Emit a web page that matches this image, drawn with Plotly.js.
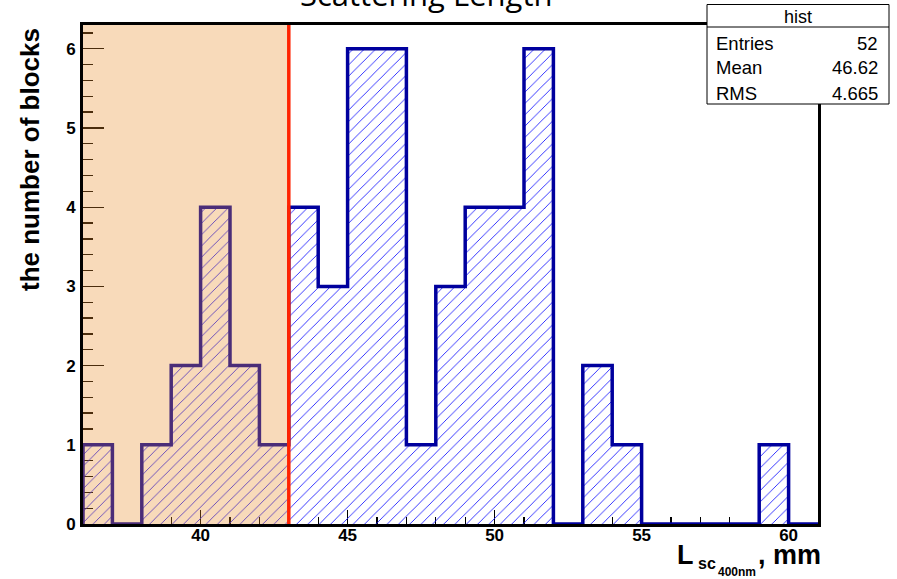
<!DOCTYPE html>
<html>
<head>
<meta charset="utf-8">
<script src="https://cdn.plot.ly/plotly-3.0.1.min.js"></script>
<style>
  html, body { margin: 0; padding: 0; background: #ffffff; }
  #chart { width: 897px; height: 579px; }
</style>
</head>
<body>
<div id="chart"></div>
<script>
// Histogram of scattering length per block, 1 mm bins from 36 to 61 mm
const binLow = [36, 37, 38, 39, 40, 41, 42, 43, 44, 45, 46, 47, 48, 49, 50,
                51, 52, 53, 54, 55, 56, 57, 58, 59, 60];
const counts = [1, 0, 1, 2, 4, 2, 1, 4, 3, 6, 6, 1, 3, 4, 4,
                6, 0, 2, 1, 0, 0, 0, 0, 1, 0];
const binWidth = 1;
const xRange = [36, 61];
const yRange = [0, 6.3];

// Blocks below this length are rejected (shaded region)
const cutValue = 43;

// Statistics box
const statsTitle = 'hist';
const statsNames = ['Entries', 'Mean', 'RMS'];
const statsValues = ['52', '46.62', '4.665'];

const W = 897, H = 579;
const M = {l: 83, r: 79, t: 25, b: 55};
const px = x => (x - M.l) / (W - M.l - M.r);
const py = y => (H - M.b - y) / (H - M.t - M.b);

const centers = binLow.map(v => v + binWidth / 2);

// Step outline: start at the baseline, climb to each bin's height
const stepX = [binLow[0]].concat(binLow, [binLow[binLow.length - 1] + binWidth]);
const stepY = [0].concat(counts, [counts[counts.length - 1]]);

const hatch = {
  type: 'bar',
  x: centers,
  y: counts,
  width: binWidth,
  marker: {
    color: 'rgba(0,0,0,0)',
    line: {width: 0},
    pattern: {shape: '/', fgcolor: '#1c1cff', bgcolor: 'rgba(0,0,0,0)',
              size: 8, solidity: 0.11, fillmode: 'replace'}
  },
  hoverinfo: 'skip',
  showlegend: false
};

const outline = {
  type: 'scatter',
  mode: 'lines',
  x: stepX,
  y: stepY,
  line: {shape: 'hv', color: '#00009e', width: 3.5},
  hoverinfo: 'skip',
  showlegend: false
};

const boldFont = {family: 'Liberation Sans, Arial, sans-serif', color: '#000000'};
const plainFont = {family: 'Liberation Sans, Arial, sans-serif', color: '#000000'};

const annotations = [
  // title (runs off the top of the canvas)
  {text: 'Scattering Length', xref: 'paper', yref: 'paper',
   x: px(426), y: py(17), xanchor: 'center', yanchor: 'bottom', showarrow: false,
   font: {family: 'Open Sans, sans-serif', size: 31, color: '#000000'}},
  // y-axis title
  {text: '<b>the number of blocks</b>', xref: 'paper', yref: 'paper',
   x: px(30), y: py(160), xanchor: 'center', yanchor: 'middle', textangle: -90,
   showarrow: false, font: Object.assign({size: 26}, boldFont)},
  // x-axis title pieces
  {text: '<b>L</b>', xref: 'paper', yref: 'paper', x: px(675), y: py(572),
   xanchor: 'left', yanchor: 'bottom', showarrow: false,
   font: Object.assign({size: 27}, boldFont)},
  {text: '<b>sc</b>', xref: 'paper', yref: 'paper', x: px(696), y: py(574),
   xanchor: 'left', yanchor: 'bottom', showarrow: false,
   font: Object.assign({size: 16}, boldFont)},
  {text: '<b>400nm</b>', xref: 'paper', yref: 'paper', x: px(716), y: py(581),
   xanchor: 'left', yanchor: 'bottom', showarrow: false,
   font: Object.assign({size: 12}, boldFont)},
  {text: '<b>, mm</b>', xref: 'paper', yref: 'paper', x: px(756), y: py(572),
   xanchor: 'left', yanchor: 'bottom', showarrow: false,
   font: Object.assign({size: 27}, boldFont)},
  // statistics box header
  {text: statsTitle, xref: 'paper', yref: 'paper', x: px(798), y: py(17),
   xanchor: 'center', yanchor: 'middle', showarrow: false,
   font: Object.assign({size: 18}, plainFont)}
];

const rowY = [43, 68, 93];
statsNames.forEach((name, i) => {
  annotations.push({text: name, xref: 'paper', yref: 'paper', x: px(714), y: py(rowY[i]),
    xanchor: 'left', yanchor: 'middle', showarrow: false,
    font: Object.assign({size: 18.5}, plainFont)});
  annotations.push({text: statsValues[i], xref: 'paper', yref: 'paper', x: px(880), y: py(rowY[i]),
    xanchor: 'right', yanchor: 'middle', showarrow: false,
    font: Object.assign({size: 18.5}, plainFont)});
});

const shapes = [
  // shaded rejection region, laid over the histogram and frame
  {type: 'rect', xref: 'x', yref: 'y', layer: 'above',
   x0: xRange[0] - 0.1, x1: cutValue, y0: -0.045, y1: yRange[1] + 0.03,
   fillcolor: 'rgba(232,140,40,0.32)', line: {width: 0}},
  // cut line
  {type: 'line', xref: 'x', yref: 'y', layer: 'above',
   x0: cutValue, x1: cutValue, y0: -0.02, y1: yRange[1] + 0.02,
   line: {color: '#ff2200', width: 3.5}},
  // statistics box
  {type: 'rect', xref: 'paper', yref: 'paper', layer: 'above',
   x0: px(707), x1: px(889), y0: py(104), y1: py(4.5),
   fillcolor: '#ffffff', line: {color: '#000000', width: 1}},
  {type: 'line', xref: 'paper', yref: 'paper', layer: 'above',
   x0: px(707), x1: px(889), y0: py(27), y1: py(27),
   line: {color: '#000000', width: 1}}
];

const tickFont = {family: 'Liberation Sans, Arial, sans-serif', size: 17, color: '#000000', weight: 'bold'};

const layout = {
  width: W,
  height: H,
  margin: M,
  paper_bgcolor: '#ffffff',
  plot_bgcolor: '#ffffff',
  bargap: 0,
  showlegend: false,
  xaxis: {
    range: xRange,
    showgrid: false,
    zeroline: false,
    showline: true,
    linecolor: '#000000',
    linewidth: 3,
    mirror: true,
    layer: 'below traces',
    ticks: 'inside',
    ticklen: 14,
    tickwidth: 1.3,
    tickcolor: '#000000',
    tick0: 0,
    dtick: 5,
    minor: {dtick: 1, ticks: 'inside', ticklen: 7, tickwidth: 1.3, tickcolor: '#000000', showgrid: false},
    tickfont: tickFont,
    ticklabelstandoff: -6
  },
  yaxis: {
    range: yRange,
    showgrid: false,
    zeroline: false,
    showline: true,
    linecolor: '#000000',
    linewidth: 3,
    mirror: true,
    layer: 'below traces',
    ticks: 'inside',
    ticklen: 21,
    tickwidth: 1.3,
    tickcolor: '#000000',
    tick0: 0,
    dtick: 1,
    minor: {dtick: 0.2, ticks: 'inside', ticklen: 10, tickwidth: 1.3, tickcolor: '#000000', showgrid: false},
    tickfont: tickFont,
    ticklabelstandoff: 1
  },
  annotations: annotations,
  shapes: shapes
};

Plotly.newPlot('chart', [hatch, outline], layout, {staticPlot: true, displayModeBar: false});
</script>
</body>
</html>
